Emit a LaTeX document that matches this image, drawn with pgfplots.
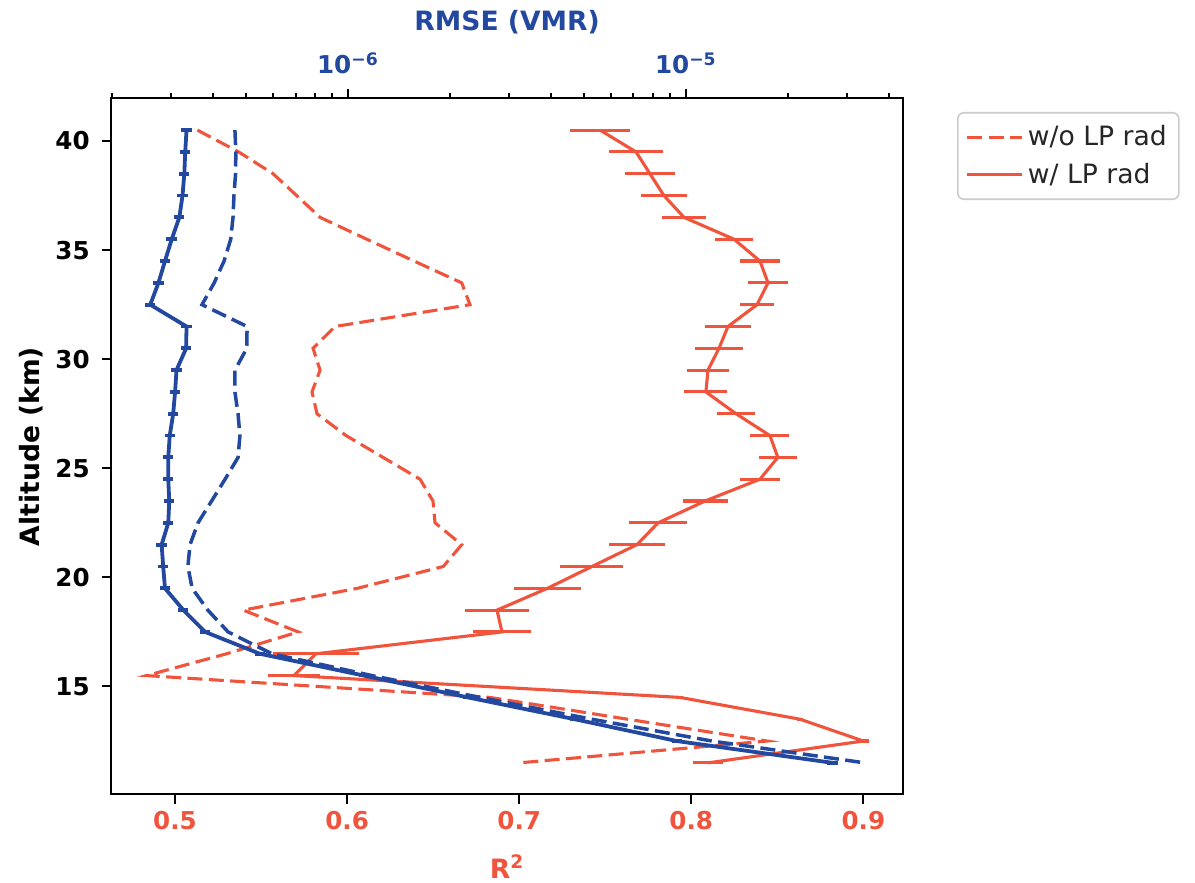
\documentclass[border=0pt]{standalone}
\usepackage{fontspec}
\setmainfont{DejaVu Sans}
\usepackage{pgfplots}
\usepackage{pgfplotstable}
\pgfplotsset{compat=1.18}
\definecolor{cred}{RGB}{240,84,60}
\definecolor{cblue}{RGB}{35,72,160}
\definecolor{lgray}{RGB}{204,204,204}

\pgfplotstableread{
alt r2 err
40.5 0.7470 0.0173
39.5 0.7679 0.0157
38.5 0.7760 0.0145
37.5 0.7841 0.0134
36.5 0.7958 0.0128
35.5 0.8248 0.0110
34.5 0.8399 0.0116
33.5 0.8446 0.0116
32.5 0.8382 0.0099
31.5 0.8213 0.0134
30.5 0.8161 0.0139
29.5 0.8097 0.0122
28.5 0.8085 0.0125
27.5 0.8260 0.0110
26.5 0.8457 0.0113
25.5 0.8503 0.0110
24.5 0.8399 0.0116
23.5 0.8080 0.0131
22.5 0.7807 0.0169
21.5 0.7684 0.0163
20.5 0.7423 0.0183
19.5 0.7164 0.0195
18.5 0.6871 0.0186
17.5 0.6900 0.0171
16.5 0.5819 0.0250
15.5 0.5691 0.0151
14.5 0.7934 0.0020
13.5 0.8632 0.0020
12.5 0.9000 0.0030
11.5 0.8097 0.0087
}\redsolid

\pgfplotstableread{
alt r2
40.5 0.5130
39.5 0.5370
38.5 0.5570
37.5 0.5707
36.5 0.5843
35.5 0.6114
34.5 0.6389
33.5 0.6666
32.5 0.6714
31.5 0.5930
30.5 0.5802
29.5 0.5843
28.5 0.5796
27.5 0.5825
26.5 0.5994
25.5 0.6209
24.5 0.6424
23.5 0.6499
22.5 0.6511
21.5 0.6666
20.5 0.6559
19.5 0.6060
18.5 0.5397
17.5 0.5716
16.5 0.5300
15.5 0.4834
14.5 0.6830
13.5 0.7630
12.5 0.8440
11.5 0.7000
}\reddash

\pgfplotstableread{
alt rmse rel
40.5 3.33e-7 0.035
39.5 3.30e-7 0.035
38.5 3.28e-7 0.035
37.5 3.24e-7 0.035
36.5 3.17e-7 0.035
35.5 3.01e-7 0.035
34.5 2.875e-7 0.035
33.5 2.75e-7 0.035
32.5 2.60e-7 0.035
31.5 3.33e-7 0.035
30.5 3.32e-7 0.035
29.5 3.11e-7 0.035
28.5 3.08e-7 0.035
27.5 3.04e-7 0.035
26.5 2.97e-7 0.035
25.5 2.94e-7 0.035
24.5 2.94e-7 0.035
23.5 2.96e-7 0.035
22.5 2.94e-7 0.035
21.5 2.81e-7 0.035
20.5 2.84e-7 0.035
19.5 2.875e-7 0.035
18.5 3.26e-7 0.035
17.5 3.78e-7 0.035
16.5 5.49e-7 0.035
15.5 1.115e-6 0.035
14.5 2.265e-6 0.035
13.5 4.69e-6 0.035
12.5 9.40e-6 0.035
11.5 2.72e-5 0.035
}\bluesolid

\pgfplotstableread{
alt rmse
40.5 4.63e-7
39.5 4.66e-7
38.5 4.65e-7
37.5 4.60e-7
36.5 4.57e-7
35.5 4.50e-7
34.5 4.30e-7
33.5 4.02e-7
32.5 3.70e-7
31.5 5.03e-7
30.5 5.02e-7
29.5 4.63e-7
28.5 4.63e-7
27.5 4.73e-7
26.5 4.79e-7
25.5 4.73e-7
24.5 4.33e-7
23.5 3.95e-7
22.5 3.60e-7
21.5 3.41e-7
20.5 3.36e-7
19.5 3.46e-7
18.5 3.85e-7
17.5 4.42e-7
16.5 5.96e-7
15.5 1.178e-6
14.5 2.457e-6
13.5 5.27e-6
12.5 1.194e-5
11.5 3.385e-5
}\bluedash

\begin{document}
\begin{tikzpicture}
\useasboundingbox (-55.5pt,-44.25pt) rectangle (542pt,397.25pt);
\begin{axis}[
  at={(0,0)}, anchor=south west,
  scale only axis, width=396.15pt, height=348pt,
  xmin=0.4628, xmax=0.9232, ymin=10.05, ymax=41.95,
  xtick={0.5,0.6,0.7,0.8,0.9}, xticklabels={0.5,0.6,0.7,0.8,0.9},
  ytick={15,20,25,30,35,40}, yticklabels={15,20,25,30,35,40},
  xtick pos=bottom, ytick pos=left, tick align=outside,
  major tick length=4.6pt,
  every tick/.style={black, line width=1pt},
  axis line style={line width=1pt},
  xticklabel style={font=\fontsize{12.3}{14}\selectfont\bfseries, text=cred},
  yticklabel style={font=\fontsize{12.3}{14}\selectfont\bfseries, text=black, xshift=-2.5pt},
  xlabel={R\textsuperscript{2}},
  xlabel style={font=\fontsize{13.3}{16}\selectfont\bfseries, text=cred, at={(axis description cs:0.5,-0.1214)}, anchor=base},
  ylabel={Altitude (km)},
  ylabel style={font=\fontsize{13.3}{16}\selectfont\bfseries, text=black, at={(axis description cs:-0.101,0.5)}, anchor=center},
  legend style={at={(1.0678,0.9806)}, anchor=north west, draw=lgray, line width=0.8pt, rounded corners=3pt,
    font=\fontsize{13.3}{16}\selectfont, text=black!85, inner xsep=4pt, inner ysep=4.5pt, row sep=3pt},
  legend cell align=left,
  legend image code/.code={\draw[#1] (0pt,0pt) -- (27.5pt,0pt);},
]
\addplot[cred, line width=1.55pt, dash pattern=on 7.5pt off 3.2pt] table[x=r2, y=alt] {\reddash};
\addlegendentry{w/o LP rad}
\addplot[cred, line width=1.55pt, error bars/.cd, x dir=both, x explicit, error mark=none,
  error bar style={line width=1.55pt, solid}] table[x=r2, y=alt, x error=err] {\redsolid};
\addlegendentry{w/ LP rad}
\end{axis}
\begin{axis}[
  at={(0,0)}, anchor=south west,
  scale only axis, width=396.15pt, height=348pt,
  xmode=log, xmin=1.99e-7, xmax=4.40e-5, ymin=10.05, ymax=41.95,
  axis x line*=top, hide y axis,
  tick align=outside,
  xtick={1e-6,1e-5}, xticklabels={10\textsuperscript{−6},10\textsuperscript{−5}},
  minor xtick={2e-7,3e-7,4e-7,5e-7,6e-7,7e-7,8e-7,9e-7,2e-6,3e-6,4e-6,5e-6,6e-6,7e-6,8e-6,9e-6,2e-5,3e-5,4e-5},
  major tick length=4.6pt, minor tick length=2.6pt,
  every tick/.style={black, line width=1pt},
  axis line style={line width=1pt},
  xticklabel style={font=\fontsize{12.3}{14}\selectfont\bfseries, text=cblue, yshift=4pt},
  xlabel={RMSE (VMR)},
  xlabel style={font=\fontsize{13.3}{16}\selectfont\bfseries, text=cblue, at={(axis description cs:0.5,1.097)}, anchor=base},
]
\addplot[cblue, line width=1.75pt, dash pattern=on 7.5pt off 3.2pt] table[x=rmse, y=alt] {\bluedash};
\addplot[cblue, line width=1.9pt, error bars/.cd, x dir=both, x explicit relative, error mark=none,
  error bar style={line width=1.9pt, solid}] table[x=rmse, y=alt, x error=rel] {\bluesolid};
\end{axis}
\end{tikzpicture}
\end{document}
